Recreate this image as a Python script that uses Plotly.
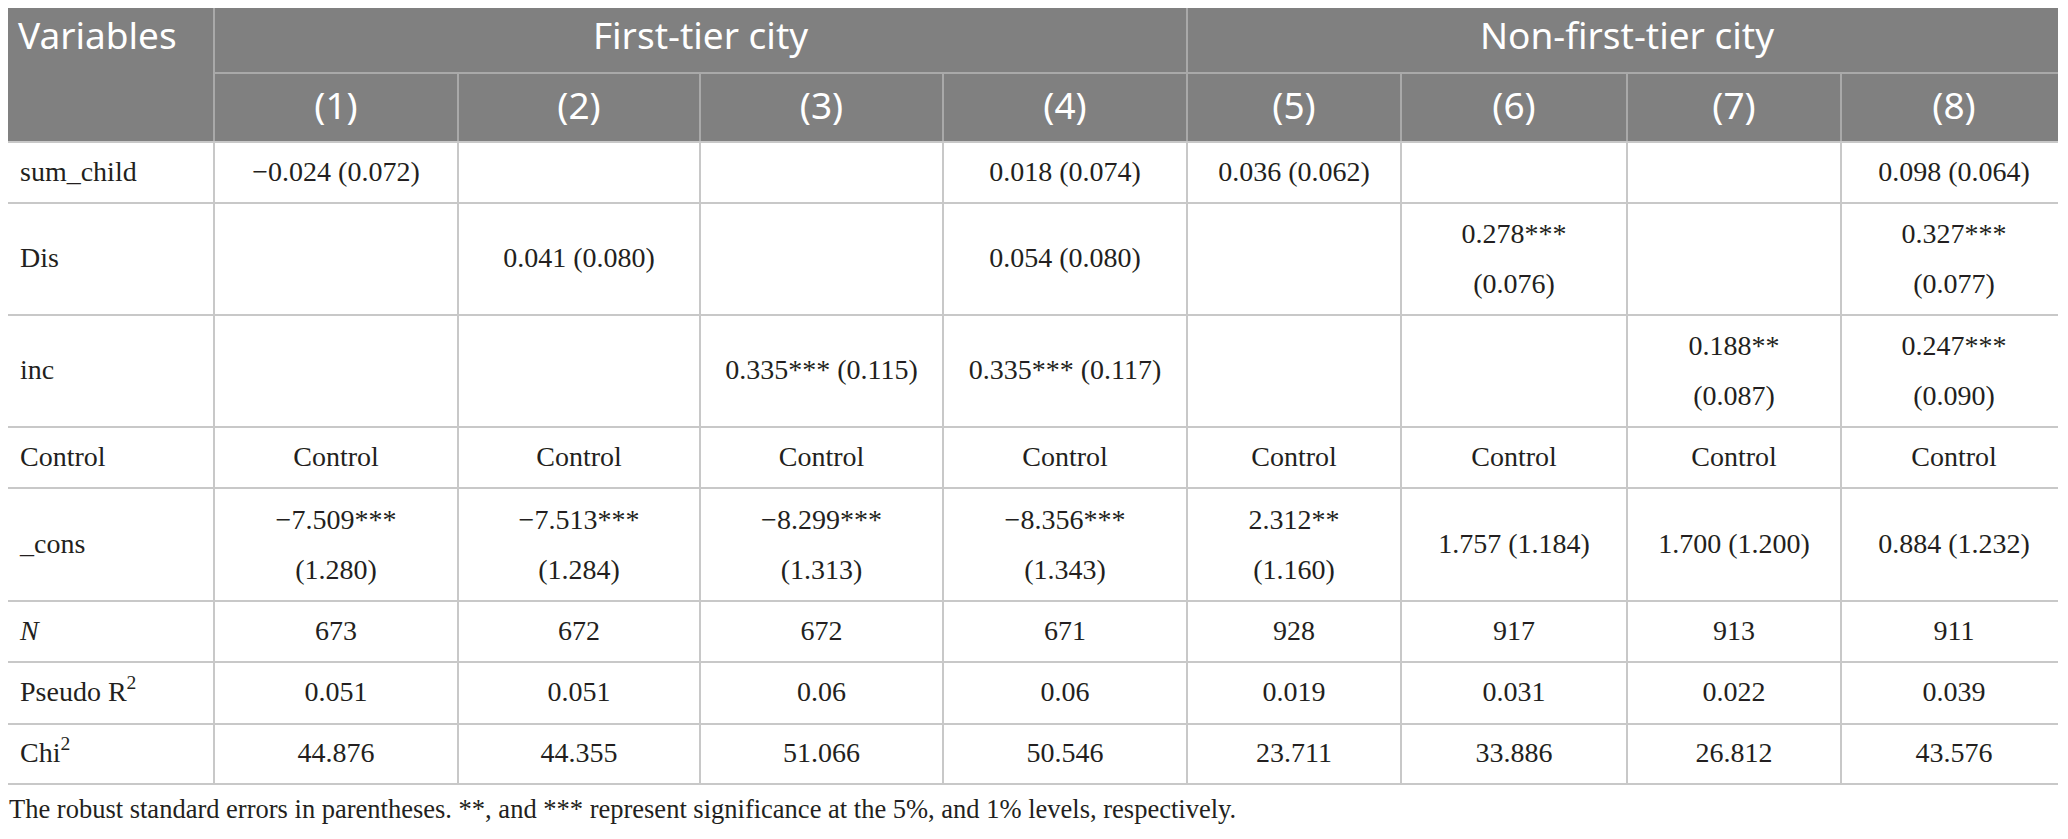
import plotly.graph_objects as go

# --- table contents ---
variables = ["sum_child", "Dis", "inc", "Control", "_cons",
             "<i>N</i>", "Pseudo R<sup>2</sup>", "Chi<sup>2</sup>"]
groups = ["First-tier city", "Non-first-tier city"]
models = ["(1)", "(2)", "(3)", "(4)", "(5)", "(6)", "(7)", "(8)"]

sum_child = ["−0.024 (0.072)", "", "", "0.018 (0.074)", "0.036 (0.062)", "", "", "0.098 (0.064)"]
dis = ["", "0.041 (0.080)", "", "0.054 (0.080)", "", "0.278*** (0.076)", "", "0.327*** (0.077)"]
inc = ["", "", "0.335*** (0.115)", "0.335*** (0.117)", "", "", "0.188** (0.087)", "0.247*** (0.090)"]
control = ["Control"] * 8
cons = ["−7.509*** (1.280)", "−7.513*** (1.284)", "−8.299*** (1.313)", "−8.356*** (1.343)",
        "2.312** (1.160)", "1.757 (1.184)", "1.700 (1.200)", "0.884 (1.232)"]
n_obs = [673, 672, 672, 671, 928, 917, 913, 911]
pseudo_r2 = ["0.051", "0.051", "0.06", "0.06", "0.019", "0.031", "0.022", "0.039"]
chi2 = ["44.876", "44.355", "51.066", "50.546", "23.711", "33.886", "26.812", "43.576"]

footnote = ("The robust standard errors in parentheses. **, and *** represent significance "
            "at the 5%, and 1% levels, respectively.")

body = [sum_child, dis, inc, control, cons, [str(v) for v in n_obs], pseudo_r2, chi2]

# --- geometry (page pixels) ---
# the page body keeps its 8px margin, so the figure sits at (8, 8) and the
# axes are set so that one data unit is one page pixel
OFF = 8
W, H = 2050, 820
COL_X = [0, 214, 458, 700, 943, 1187, 1401, 1627, 1841, 2067]
ROW_Y = [4, 73, 142, 203, 315, 427, 488, 601, 662, 724, 784]
# cells whose coefficient and s.e. sit on two lines
WRAPPED = {(1, 5), (1, 7), (2, 6), (2, 7), (4, 0), (4, 1), (4, 2), (4, 3), (4, 4)}

HEAD_BG = "#808080"
HEAD_LINE = "#a9a9a9"
GRID = "#c8c8c8"
INK = "#231f20"
SERIF = "Liberation Serif"
SANS = "Noto Sans"

fig = go.Figure()

shapes = [dict(type="rect", xref="x", yref="y", x0=COL_X[0], x1=COL_X[-1],
               y0=ROW_Y[0], y1=ROW_Y[2], fillcolor=HEAD_BG, line_width=0, layer="below")]


def hline(y, x0, x1, color):
    return dict(type="line", xref="x", yref="y", x0=x0, x1=x1, y0=y, y1=y,
                line=dict(color=color, width=2))


def vline(x, y0, y1, color):
    return dict(type="line", xref="x", yref="y", x0=x, x1=x, y0=y0, y1=y1,
                line=dict(color=color, width=2))


# header grid
shapes.append(hline(ROW_Y[1], COL_X[1], COL_X[-1], HEAD_LINE))
shapes.append(vline(COL_X[1], ROW_Y[0], ROW_Y[2], HEAD_LINE))
shapes.append(vline(COL_X[5], ROW_Y[0], ROW_Y[2], HEAD_LINE))
for cx in COL_X[2:-1]:
    if cx != COL_X[5]:
        shapes.append(vline(cx, ROW_Y[1], ROW_Y[2], HEAD_LINE))
# body grid
for ry in ROW_Y[2:]:
    shapes.append(hline(ry, COL_X[0], COL_X[-1], GRID))
for cx in COL_X:
    shapes.append(vline(cx, ROW_Y[2], ROW_Y[-1], GRID))

# header text
hx, hy, ht = [], [], []
g_edges = [(COL_X[1], COL_X[5]), (COL_X[5], COL_X[-1])]
for g, (a, b) in zip(groups, g_edges):
    hx.append((a + b) / 2)
    hy.append(40)
    ht.append(g)
for j, m in enumerate(models):
    hx.append((COL_X[j + 1] + COL_X[j + 2]) / 2)
    hy.append((ROW_Y[1] + ROW_Y[2]) / 2 + 2)
    ht.append(m)
fig.add_trace(go.Scatter(x=hx, y=hy, text=ht, mode="text", textposition="middle center",
                         textfont=dict(family=SANS, size=37, color="white"), hoverinfo="skip"))
fig.add_trace(go.Scatter(x=[COL_X[0] + 18], y=[40], text=["Variables"], mode="text",
                         textposition="middle right",
                         textfont=dict(family=SANS, size=37, color="white"), hoverinfo="skip"))

# body text
bx, by, bt = [], [], []
for i, row in enumerate(body):
    yc = (ROW_Y[i + 2] + ROW_Y[i + 3]) / 2 + 1
    for j, val in enumerate(row):
        if not val:
            continue
        xc = (COL_X[j + 1] + COL_X[j + 2]) / 2
        if (i, j) in WRAPPED:
            coef, se = val.split(" (")
            bx += [xc, xc]
            by += [yc - 24, yc + 26]
            bt += [coef, "(" + se]
        else:
            bx.append(xc)
            by.append(yc)
            bt.append(val)
fig.add_trace(go.Scatter(x=bx, y=by, text=bt, mode="text", textposition="middle center",
                         textfont=dict(family=SERIF, size=28, color=INK), hoverinfo="skip"))

vy = [(ROW_Y[i + 2] + ROW_Y[i + 3]) / 2 + 1 for i in range(len(variables))]
fig.add_trace(go.Scatter(x=[COL_X[0] + 20] * len(variables), y=vy, text=variables, mode="text",
                         textposition="middle right",
                         textfont=dict(family=SERIF, size=28, color=INK), hoverinfo="skip"))

fig.add_trace(go.Scatter(x=[OFF + 1], y=[811], text=[footnote], mode="text",
                         textposition="middle right",
                         textfont=dict(family=SERIF, size=26.5, color=INK), hoverinfo="skip"))

fig.update_layout(
    width=W, height=H,
    margin=dict(l=0, r=0, t=0, b=0),
    paper_bgcolor="white", plot_bgcolor="white",
    showlegend=False,
    shapes=shapes,
    xaxis=dict(range=[OFF, OFF + W], visible=False, fixedrange=True),
    yaxis=dict(range=[OFF + H, OFF], visible=False, fixedrange=True),
)

fig.write_html("out.html")
